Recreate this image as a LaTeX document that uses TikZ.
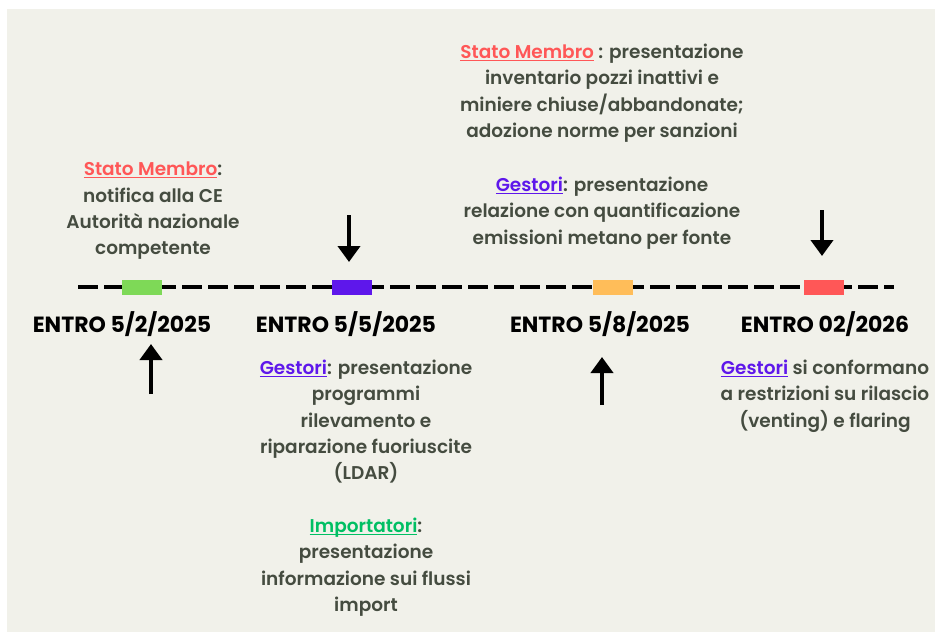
\documentclass[tikz,border=0pt]{standalone}
\usepackage{fontspec}
\setmainfont{Poppins}[UprightFont=* Medium, BoldFont=* SemiBold]
\newfontfamily\datefont{Poppins}[UprightFont=* Bold]
\usetikzlibrary{arrows.meta}
\definecolor{bgc}{HTML}{F1F1EA}
\definecolor{txt}{HTML}{454C40}
\definecolor{cgreen}{HTML}{7ED957}
\definecolor{cpurple}{HTML}{5E17EB}
\definecolor{corange}{HTML}{FFBD59}
\definecolor{cred}{HTML}{FF5757}
\definecolor{cimp}{HTML}{00BF63}
\newcommand{\tagged}[2]{\textcolor{#1}{\setbox0\hbox{#2}\rlap{\rule[-2.5pt]{\wd0}{1.5pt}}\box0}}
\tikzset{
  body/.style={font=\fontsize{18.5}{26.2}\selectfont\bfseries, text=txt, align=center, anchor=north, inner sep=0pt},
  datelbl/.style={font=\fontsize{22}{24}\selectfont\datefont, text=black, anchor=base, inner sep=0pt},
  tickbox/.style={minimum width=40pt, minimum height=15pt, inner sep=0pt, draw=none},
  timeline/.style={line width=3.5pt, dash pattern=on 20pt off 6pt},
  bigarrow/.style={line width=4.5pt, -{Triangle[width=22pt,length=16pt]}}
}
\begin{document}
\begin{tikzpicture}[x=1pt,y=-1pt]
\useasboundingbox (0,0) rectangle (935,632);
\fill[white] (0,0) rectangle (935,632);
\fill[bgc] (7,9) rectangle (935,632);
% timeline
\coordinate (tl0) at (78,287);
\coordinate (tl1) at (894,287);
\draw[timeline] (tl0) -- (tl1);
\node[tickbox, fill=cgreen] (m1) at (142,287) {};
\node[tickbox, fill=cpurple] (m2) at (352,287) {};
\node[tickbox, fill=corange] (m3) at (613,287) {};
\node[tickbox, fill=cred] (m4) at (824,287) {};
% date labels
\node[datelbl] (d1) at (122,332) {ENTRO 5/2/2025};
\node[datelbl] (d2) at (346,332) {ENTRO 5/5/2025};
\node[datelbl] (d3) at (600,332) {ENTRO 5/8/2025};
\node[datelbl] (d4) at (825,332) {ENTRO 02/2026};
% arrows
\coordinate (a1s) at (151,394); \coordinate (a1e) at (151,344);
\coordinate (a2s) at (349,215); \coordinate (a2e) at (349,262);
\coordinate (a3s) at (602,405); \coordinate (a3e) at (602,357);
\coordinate (a4s) at (822,210); \coordinate (a4e) at (822,256);
\draw[bigarrow] (a1s) -- (a1e);
\draw[bigarrow] (a2s) -- (a2e);
\draw[bigarrow] (a3s) -- (a3e);
\draw[bigarrow] (a4s) -- (a4e);
% text blocks
\node[body] (tA) at (153,162) {\tagged{cred}{Stato Membro}:\\notifica alla CE\\Autorità nazionale\\competente};
\node[body] (tB1) at (602,44) {\tagged{cred}{Stato Membro} : presentazione\\inventario pozzi inattivi e\\miniere chiuse/abbandonate;\\adozione norme per sanzioni};
\node[body] (tB2) at (602,177) {\tagged{cpurple}{Gestori}: presentazione\\relazione con quantificazione\\emissioni metano per fonte};
\node[body] (tC1) at (366,360) {\tagged{cpurple}{Gestori}: presentazione\\programmi\\rilevamento e\\riparazione fuoriuscite\\(LDAR)};
\node[body] (tC2) at (366,518) {\tagged{cimp}{Importatori}:\\presentazione\\informazione sui flussi\\import};
\node[body] (tD) at (825,360) {\tagged{cpurple}{Gestori} si conformano\\a restrizioni su rilascio\\(venting) e flaring};
\end{tikzpicture}
\end{document}
